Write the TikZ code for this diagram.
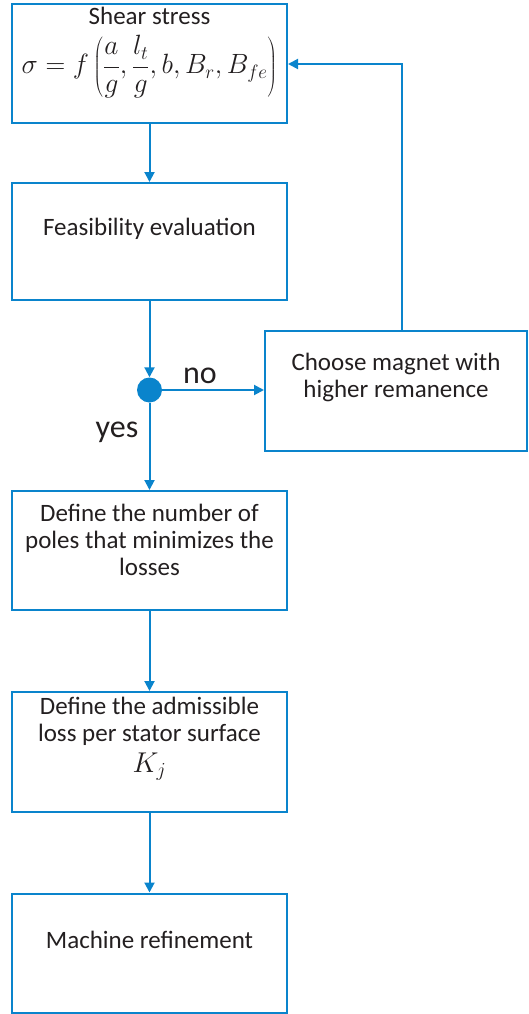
\documentclass[tikz,border=0pt]{standalone}
\usepackage{fontspec}
\usepackage{graphicx}
\setmainfont{Carlito}
\usetikzlibrary{arrows.meta}
\definecolor{fblue}{RGB}{10,132,204}
\definecolor{ftext}{RGB}{35,31,32}
\tikzset{
  box/.style={draw=fblue, line width=2pt, minimum width=275pt, minimum height=119pt, inner sep=0pt},
  txt/.style={font=\fontsize{25}{27}\selectfont, text=ftext, align=center, inner sep=0pt},
  lbl/.style={font=\fontsize{32}{34}\selectfont, text=ftext, inner sep=0pt},
  conn/.style={draw=fblue, line width=2pt, -{Triangle[length=10pt,width=10pt]}},
}
\begin{document}
\begin{tikzpicture}[x=1pt,y=-1pt]
\useasboundingbox (0,0) rectangle (528,1014);
\node[box] (b1) at (149.5,63.5) {};
\node[box, minimum height=117pt] (b2) at (149.5,241.5) {};
\node[box, minimum width=262pt, minimum height=120pt] (b3) at (396,391) {};
\node[box] (b4) at (149.5,550.5) {};
\node[box, minimum height=120pt] (b5) at (149.5,752) {};
\node[box, minimum height=119pt] (b6) at (149.5,953) {};
\node[circle, fill=fblue, minimum size=25pt, inner sep=0pt] (dec) at (149.5,390) {};

\node[txt] (t1a) at (149.5,16) {Shear stress};
\node[txt] (t1b) at (149.5,67) {\scalebox{1.1}[1.12]{$\displaystyle \sigma = f\left(\frac{a}{g},\frac{l_t}{g},b,B_r,B_{fe}\right)$}};
\node[txt] (t2) at (149.5,229) {Feasibility evaluation};
\node[txt] (t3) at (396,377) {Choose magnet with\\higher remanence};
\node[txt] (t4) at (149.5,540) {Define the number of\\poles that minimizes the\\losses};
\node[txt] (t5) at (149.5,721) {Define the admissible\\loss per stator surface};
\node[txt] (t5b) at (149.5,767) {\scalebox{1.15}{$K_j$}};
\node[txt] (t6) at (149.5,940) {Machine refinement};
\node[lbl] (no) at (200,376) {no};
\node[lbl] (yes) at (117,432) {yes};

\draw[conn] (b1.south) -- (b2.north);
\draw[conn] (b2.south) -- (dec.north);
\draw[conn] (dec.east) -- (b3.west |- dec.east);
\draw[conn] (dec.south) -- (b4.north);
\draw[conn] (b4.south) -- (b5.north);
\draw[conn] (b5.south) -- (b6.north);
\coordinate (up) at (402,64);
\draw[conn] (b3.north -| up) -- (up) -- (b1.east |- up);
\end{tikzpicture}
\end{document}
